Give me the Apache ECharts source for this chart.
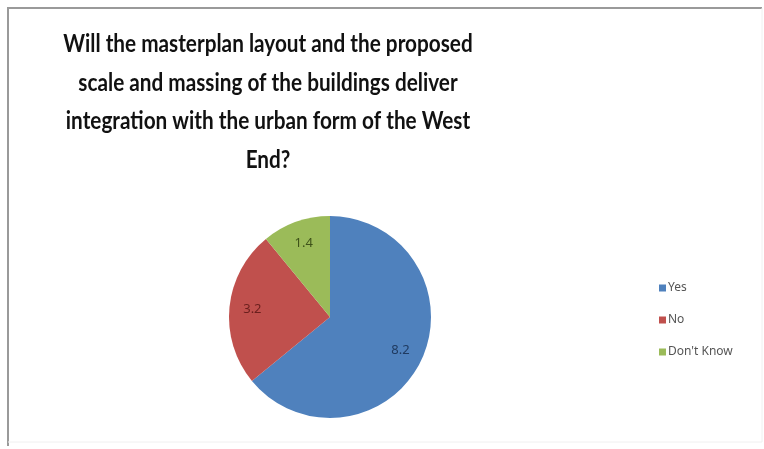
<!DOCTYPE html>
<html>
<head>
<meta charset="utf-8">
<script src="https://cdn.jsdelivr.net/npm/echarts@6/dist/echarts.min.js"></script>
<style>
  html, body { margin: 0; padding: 0; background: #fff; }
  #chart { width: 764px; height: 449px; }
</style>
</head>
<body>
<div id="chart"></div>
<script>
// Survey responses
const categories = ['Yes', 'No', "Don't Know"];
const values = [8.2, 3.2, 1.4];
const colors = ['#4f81bd', '#c0504d', '#9bbb59'];
const labelColors = ['#1f3a60', '#6a1f1d', '#3e5219'];

const titleText = 'Will the masterplan layout and the proposed\nscale and massing of the buildings deliver\nintegration with the urban form of the West\nEnd?';

const pieData = categories.map((name, i) => ({
  name: name,
  value: values[i],
  itemStyle: { color: colors[i] }
}));

// Value labels are placed by a second, transparent pie so they sit
// further out than the default mid-radius position.
const labelData = categories.map((name, i) => ({
  name: name,
  value: values[i],
  itemStyle: { color: 'rgba(0,0,0,0)' },
  label: { color: labelColors[i] }
}));

const chart = echarts.init(document.getElementById('chart'), null, { renderer: 'canvas' });

chart.setOption({
  backgroundColor: '#ffffff',
  animation: false,
  graphic: [
    {
      type: 'polyline',
      silent: true,
      shape: { points: [[8, 446], [8, 8], [762, 8]] },
      style: { stroke: '#9a9a9a', lineWidth: 2, fill: null }
    },
    {
      type: 'polyline',
      silent: true,
      shape: { points: [[762, 8], [762, 442], [8, 442]] },
      style: { stroke: '#f0f0f0', lineWidth: 1, fill: null }
    },
    {
      // Condensed bold title
      type: 'text',
      silent: true,
      x: 268,
      y: 25,
      scaleX: 0.83,
      style: {
        text: titleText,
        align: 'center',
        verticalAlign: 'top',
        fontFamily: 'Lato',
        fontWeight: 'bold',
        fontSize: 25,
        lineHeight: 38.5,
        fill: '#111111'
      }
    }
  ],
  legend: {
    orient: 'vertical',
    left: 654,
    top: 277,
    itemWidth: 7,
    itemHeight: 7,
    itemGap: 20,
    icon: 'rect',
    data: categories,
    textStyle: {
      fontFamily: 'Noto Sans',
      fontSize: 12,
      color: '#555555',
      padding: [0, 0, 0, -3]
    }
  },
  series: [
    {
      type: 'pie',
      center: [330, 317],
      radius: [0, 101],
      startAngle: 90,
      clockwise: true,
      silent: true,
      label: { show: false },
      labelLine: { show: false },
      data: pieData
    },
    {
      type: 'pie',
      center: [330, 317],
      radius: [0, 150],
      startAngle: 90,
      clockwise: true,
      silent: true,
      z: 5,
      label: {
        show: true,
        position: 'inside',
        formatter: '{c}',
        fontFamily: 'Noto Sans',
        fontSize: 13
      },
      labelLine: { show: false },
      data: labelData
    }
  ]
});
</script>
</body>
</html>
